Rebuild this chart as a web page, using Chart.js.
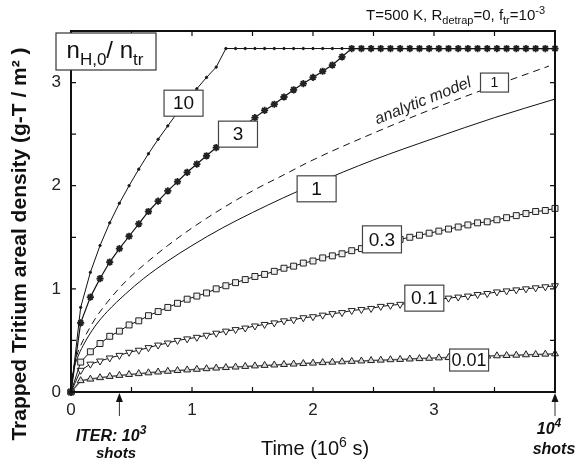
<!DOCTYPE html>
<html>
<head>
<meta charset="utf-8">
<script src="https://cdn.jsdelivr.net/npm/chart.js@4.4.1/dist/chart.umd.min.js"></script>
<style>
  html, body { margin: 0; padding: 0; background: #fff; }
  #wrap { width: 577px; height: 460px; }
</style>
</head>
<body>
<div id="wrap"><canvas id="chart" width="577" height="460"></canvas></div>
<script>
// time grid of the marked curves (10^6 s)
const timeGrid = [0, 0.08, 0.16, 0.24, 0.32, 0.40, 0.48, 0.56, 0.64, 0.72, 0.80,
  0.88, 0.96, 1.04, 1.12, 1.20, 1.28, 1.36, 1.44, 1.52, 1.60,
  1.68, 1.76, 1.84, 1.92, 2.00, 2.08, 2.16, 2.24, 2.32, 2.40,
  2.48, 2.56, 2.64, 2.72, 2.80, 2.88, 2.96, 3.04, 3.12, 3.20,
  3.28, 3.36, 3.44, 3.52, 3.60, 3.68, 3.76, 3.84, 3.92, 4.00]

// trapped tritium (g-T/m2) for n_H,0/n_tr = 10, 3, 0.3, 0.1, 0.01
const trap10 = [0, 0.82, 1.16, 1.42, 1.64, 1.83, 2.00, 2.16, 2.31, 2.45, 2.58,
  2.71, 2.83, 2.94, 3.05, 3.15, 3.33, 3.33, 3.33, 3.33, 3.33,
  3.33, 3.33, 3.33, 3.33, 3.33, 3.33, 3.33, 3.33, 3.33, 3.33,
  3.33, 3.33, 3.33, 3.33, 3.33, 3.33, 3.33, 3.33, 3.33, 3.33,
  3.33, 3.33, 3.33, 3.33, 3.33, 3.33, 3.33, 3.33, 3.33, 3.33]
const trap3 = [0, 0.67, 0.92, 1.10, 1.26, 1.39, 1.51, 1.63, 1.75, 1.85, 1.95,
  2.04, 2.13, 2.21, 2.29, 2.37, 2.45, 2.52, 2.59, 2.66, 2.73,
  2.79, 2.86, 2.93, 2.99, 3.05, 3.11, 3.17, 3.25, 3.33, 3.33,
  3.33, 3.33, 3.33, 3.33, 3.33, 3.33, 3.33, 3.33, 3.33, 3.33,
  3.33, 3.33, 3.33, 3.33, 3.33, 3.33, 3.33, 3.33, 3.33, 3.33]
const trap03 = [0, 0.29, 0.39, 0.47, 0.54, 0.59, 0.65, 0.69, 0.74, 0.78, 0.82,
  0.86, 0.90, 0.93, 0.96, 1.00, 1.03, 1.06, 1.09, 1.12, 1.14,
  1.17, 1.20, 1.22, 1.25, 1.27, 1.30, 1.32, 1.34, 1.37, 1.39,
  1.41, 1.43, 1.45, 1.48, 1.50, 1.52, 1.54, 1.56, 1.58, 1.60,
  1.62, 1.64, 1.65, 1.67, 1.69, 1.71, 1.73, 1.75, 1.76, 1.78]
const trap01 = [0, 0.21, 0.27, 0.30, 0.33, 0.355, 0.385, 0.405, 0.43, 0.455, 0.475,
  0.50, 0.515, 0.53, 0.55, 0.57, 0.59, 0.605, 0.62, 0.64, 0.655,
  0.67, 0.69, 0.70, 0.72, 0.73, 0.745, 0.76, 0.77, 0.79, 0.80,
  0.81, 0.83, 0.84, 0.85, 0.86, 0.875, 0.89, 0.90, 0.91, 0.92,
  0.93, 0.945, 0.955, 0.97, 0.98, 0.99, 1.00, 1.01, 1.02, 1.03]
const trap001 = [0, 0.11, 0.125, 0.139, 0.151, 0.161, 0.170, 0.178, 0.186, 0.194, 0.201,
  0.208, 0.214, 0.220, 0.226, 0.232, 0.237, 0.242, 0.248, 0.253, 0.258,
  0.262, 0.267, 0.271, 0.276, 0.280, 0.285, 0.289, 0.293, 0.297, 0.301,
  0.305, 0.309, 0.313, 0.316, 0.320, 0.324, 0.327, 0.331, 0.334, 0.338,
  0.341, 0.344, 0.348, 0.351, 0.354, 0.357, 0.361, 0.364, 0.367, 0.370]

// unmarked curves: ratio 1 (simulation) and analytic model
const fineTime = [0, 0.02, 0.05, 0.1, 0.2, 0.3, 0.45, 0.6, 0.8, 1.0, 1.25, 1.5, 1.75, 2.0, 2.5, 3.0, 3.5, 4.0]
const trap1 = [0, 0.20, 0.32, 0.45, 0.64, 0.78, 0.95, 1.10, 1.27, 1.42, 1.59, 1.74, 1.88, 2.01, 2.25, 2.46, 2.66, 2.84]
const analyticTime = [0, 0.02, 0.05, 0.1, 0.2, 0.3, 0.45, 0.6, 0.8, 1.0, 1.25, 1.5, 1.75, 2.0, 2.5, 3.0, 3.5, 3.95]
const analytic = [0, 0.22, 0.36, 0.50, 0.71, 0.87, 1.07, 1.23, 1.42, 1.59, 1.78, 1.95, 2.10, 2.25, 2.51, 2.75, 2.97, 3.16]

// boxed curve labels, placed in data coordinates
const curveLabels = [
  { text: '10',   t: 0.93, v: 2.80, w: 39, h: 26, size: 19 },
  { text: '3',    t: 1.38, v: 2.50, w: 39, h: 26, size: 19 },
  { text: '1',    t: 2.03, v: 1.97, w: 39, h: 26, size: 19 },
  { text: '0.3',  t: 2.57, v: 1.48, w: 39, h: 27, size: 19 },
  { text: '0.1',  t: 2.92, v: 0.91, w: 39, h: 26, size: 19 },
  { text: '0.01', t: 3.29, v: 0.31, w: 39, h: 22, size: 18 },
  { text: '1',    t: 3.50, v: 3.00, w: 28, h: 19, size: 14 }
]
const shotMarks = [0.4, 4.0]

const FONT = "'Liberation Sans', Arial, Helvetica, sans-serif"
Chart.defaults.font.family = FONT

function pts(xArr, yArr) {
  return xArr.map((t, i) => ({ x: t, y: yArr[i] }))
}

// text with sub/superscripts: parts = [[text, ''|'sub'|'sup'], ...]
function richText(ctx, parts, x, y, size, style, align) {
  const fontFor = (m) => style + ' ' + (m ? Math.round(size * 0.72) : size) + 'px ' + FONT
  let total = 0
  parts.forEach(p => { ctx.font = fontFor(p[1]); total += ctx.measureText(p[0]).width })
  let cx = align === 'center' ? x - total / 2 : align === 'right' ? x - total : x
  ctx.textAlign = 'left'
  ctx.textBaseline = 'alphabetic'
  parts.forEach(p => {
    ctx.font = fontFor(p[1])
    const dy = p[1] === 'sub' ? size * 0.28 : p[1] === 'sup' ? -size * 0.42 : 0
    ctx.fillText(p[0], cx, y + dy)
    cx += ctx.measureText(p[0]).width
  })
}

const extras = {
  id: 'extras',
  afterDatasetsDraw(chart) {
    const ctx = chart.ctx, xs = chart.scales.x, ys = chart.scales.y
    ctx.save()
    // analytic model caption along the dashed curve
    ctx.translate(xs.getPixelForValue(2.91), ys.getPixelForValue(2.82))
    ctx.rotate(-22 * Math.PI / 180)
    ctx.font = 'italic 16px ' + FONT
    ctx.fillStyle = '#222'
    ctx.textAlign = 'center'
    ctx.textBaseline = 'middle'
    ctx.fillText('analytic model', 0, 0)
    ctx.restore()

    ctx.save()
    curveLabels.forEach(l => {
      const px = xs.getPixelForValue(l.t), py = ys.getPixelForValue(l.v)
      ctx.fillStyle = '#fff'
      ctx.fillRect(px - l.w / 2, py - l.h / 2, l.w, l.h)
      ctx.strokeStyle = '#444'
      ctx.lineWidth = 1.2
      ctx.strokeRect(px - l.w / 2, py - l.h / 2, l.w, l.h)
      ctx.font = l.size + 'px ' + FONT
      ctx.fillStyle = '#111'
      ctx.textAlign = 'center'
      ctx.textBaseline = 'middle'
      ctx.fillText(l.text, px, py + 1)
    })
    ctx.restore()
  },
  afterDraw(chart) {
    const ctx = chart.ctx, a = chart.chartArea, xs = chart.scales.x, ys = chart.scales.y
    ctx.save()
    // frame
    ctx.strokeStyle = '#111'
    ctx.lineWidth = 2
    ctx.strokeRect(a.left, a.top, a.right - a.left, a.bottom - a.top)
    // inward ticks on all four sides
    ctx.lineWidth = 1.2
    ctx.beginPath()
    xs.ticks.forEach(t => {
      const px = xs.getPixelForValue(t.value)
      ctx.moveTo(px, a.bottom); ctx.lineTo(px, a.bottom - 5)
      ctx.moveTo(px, a.top); ctx.lineTo(px, a.top + 5)
    })
    ys.ticks.forEach(t => {
      const py = ys.getPixelForValue(t.value)
      ctx.moveTo(a.left, py); ctx.lineTo(a.left + 5, py)
      ctx.moveTo(a.right, py); ctx.lineTo(a.right - 5, py)
    })
    ctx.stroke()

    // legend box n_H,0 / n_tr
    ctx.fillStyle = '#fff'
    ctx.fillRect(56, 33, 100, 37)
    ctx.strokeStyle = '#333'
    ctx.lineWidth = 1.2
    ctx.strokeRect(56, 33, 100, 37)
    ctx.fillStyle = '#111'
    richText(ctx, [['n', ''], ['H,0', 'sub'], ['/ n', ''], ['tr', 'sub']], 105, 58, 24, 'normal', 'center')

    // header
    ctx.fillStyle = '#111'
    richText(ctx, [['T=500 K, R', ''], ['detrap', 'sub'], ['=0, f', ''], ['tr', 'sub'], ['=10', ''], ['-3', 'sup']],
      545, 20, 15, 'normal', 'right')

    // axis titles
    richText(ctx, [['Time (10', ''], ['6', 'sup'], [' s)', '']], 315, 455, 20, 'normal', 'center')
    ctx.save()
    ctx.translate(26, 244)
    ctx.rotate(-Math.PI / 2)
    ctx.font = 'bold 21px ' + FONT
    ctx.textAlign = 'center'
    ctx.textBaseline = 'alphabetic'
    ctx.fillText('Trapped Tritium areal density (g-T / m\u00b2 )', 0, 0)
    ctx.restore()

    // shot arrows under the time axis
    shotMarks.forEach(t => {
      const px = xs.getPixelForValue(t)
      ctx.strokeStyle = '#333'
      ctx.lineWidth = 1
      ctx.beginPath()
      ctx.moveTo(px, a.bottom + 24); ctx.lineTo(px, a.bottom + 4)
      ctx.stroke()
      ctx.fillStyle = '#111'
      ctx.beginPath()
      ctx.moveTo(px, a.bottom + 1); ctx.lineTo(px - 3.5, a.bottom + 10); ctx.lineTo(px + 3.5, a.bottom + 10)
      ctx.closePath()
      ctx.fill()
    })
    ctx.fillStyle = '#111'
    richText(ctx, [['ITER: 10', ''], ['3', 'sup']], 111, 441, 16, 'italic bold', 'center')
    richText(ctx, [['shots', '']], 116, 458, 15, 'italic bold', 'center')
    richText(ctx, [['10', ''], ['4', 'sup']], 549, 434, 16, 'italic bold', 'center')
    richText(ctx, [['shots', '']], 554, 454, 16, 'italic bold', 'center')
    ctx.restore()
  }
}

const marked = (label, yArr, extra) => Object.assign({
  label,
  data: pts(timeGrid, yArr),
  showLine: true,
  borderColor: '#111',
  borderWidth: 1,
  pointBorderColor: '#222',
  pointBorderWidth: 1,
  clip: 8
}, extra)

new Chart(document.getElementById('chart'), {
  type: 'scatter',
  data: {
    datasets: [
      marked('10', trap10, { pointStyle: 'circle', pointRadius: 1.2, pointBackgroundColor: '#111' }),
      marked('3', trap3, { pointStyle: 'star', pointRadius: 3.6, pointBorderWidth: 1.8, pointBorderColor: '#222', borderWidth: 1.2 }),
      {
        label: 'analytic',
        data: pts(analyticTime, analytic),
        showLine: true, borderColor: '#111', borderWidth: 1, borderDash: [7, 5],
        pointRadius: 0, cubicInterpolationMode: 'monotone', clip: 8
      },
      {
        label: '1',
        data: pts(fineTime, trap1),
        showLine: true, borderColor: '#111', borderWidth: 1,
        pointRadius: 0, cubicInterpolationMode: 'monotone', clip: 8
      },
      marked('0.3', trap03, { pointStyle: 'rect', pointRadius: 4.2, pointBackgroundColor: '#eee' }),
      marked('0.1', trap01, { pointStyle: 'triangle', pointRotation: 180, pointRadius: 4, pointBackgroundColor: '#fff' }),
      marked('0.01', trap001, { pointStyle: 'triangle', pointRadius: 4, pointBackgroundColor: '#ddd', borderColor: '#555', borderWidth: 1.5 })
    ]
  },
  options: {
    responsive: false,
    animation: false,
    events: [],
    layout: { padding: { top: 31, right: 22, left: 0, bottom: 0 } },
    plugins: { legend: { display: false }, tooltip: { enabled: false } },
    scales: {
      x: {
        type: 'linear', min: 0, max: 4,
        grid: { display: false, drawTicks: false },
        border: { display: false },
        ticks: {
          stepSize: 0.5, padding: 8, color: '#222', font: { size: 17 },
          maxRotation: 0, autoSkip: false,
          callback: (v) => (Number.isInteger(v) && v < 4) ? String(v) : ''
        },
        afterFit: (s) => { s.height = 68 }
      },
      y: {
        min: 0, max: 3.5,
        grid: { display: false, drawTicks: false },
        border: { display: false },
        ticks: {
          stepSize: 0.5, padding: 10, color: '#222', font: { size: 17 },
          autoSkip: false,
          callback: (v) => Number.isInteger(v) ? String(v) : ''
        },
        afterFit: (s) => { s.width = 71 }
      }
    }
  },
  plugins: [extras]
})
</script>
</body>
</html>
